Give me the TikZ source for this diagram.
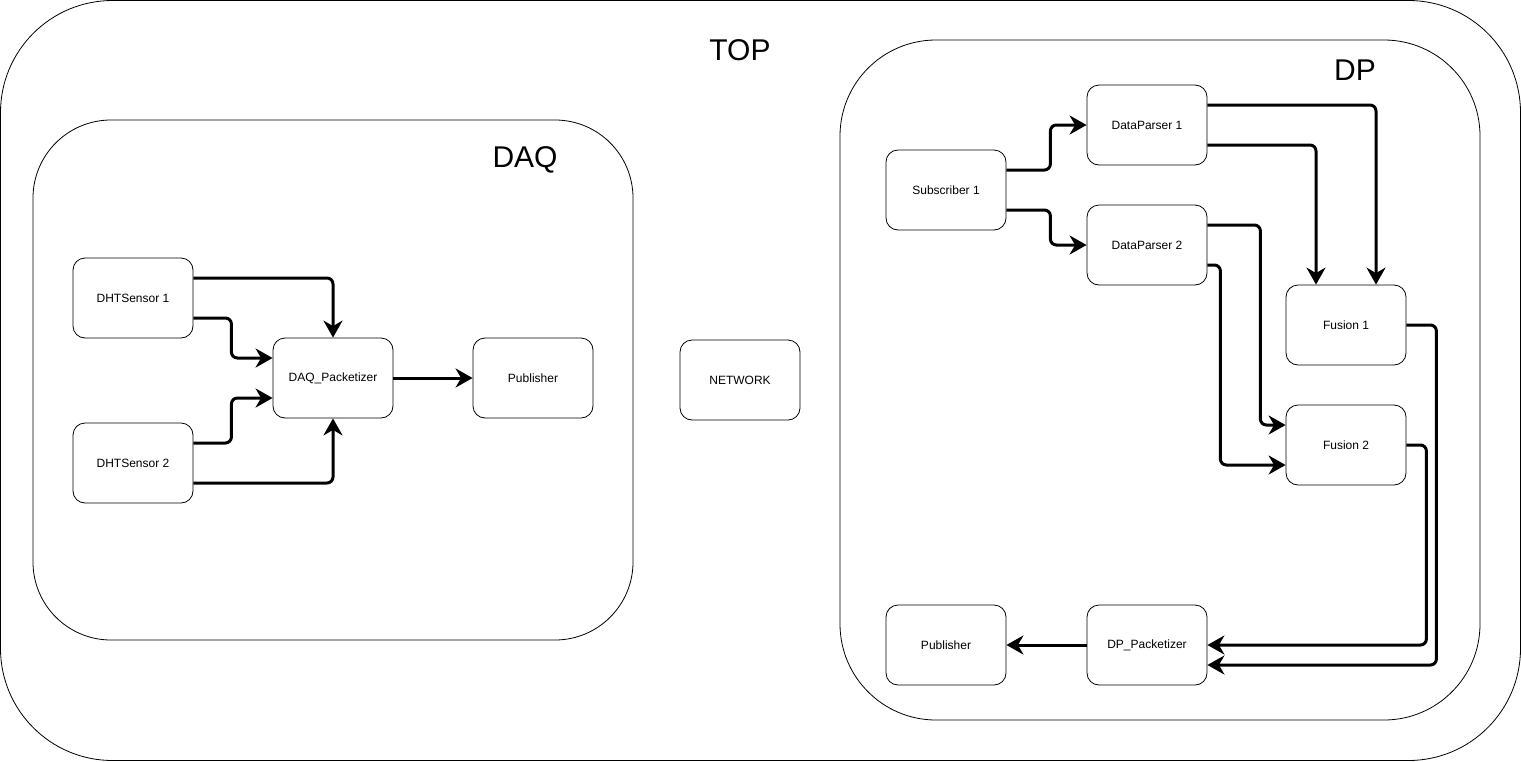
\documentclass[tikz,border=0pt]{standalone}
\usepackage{fontspec}
\setmainfont{Liberation Sans}
\usetikzlibrary{arrows.meta,calc}
\begin{document}
\begin{tikzpicture}[x=1pt,y=-1pt,
  box/.style={draw=black,line width=0.8pt,rounded corners=12pt,minimum width=120pt,minimum height=80pt,inner sep=0pt,font=\fontsize{12}{14}\selectfont,fill=white},
  conn/.style={line width=3pt,rounded corners=6pt,-{Stealth[length=17pt,width=19pt,inset=5.5pt]}},
  group/.style={draw=black,line width=0.8pt},
  title/.style={font=\fontsize{30}{34}\selectfont,inner sep=0pt}]
\useasboundingbox (0,0) rectangle (1521,761);
% containers
\draw[group,rounded corners=112pt] (0.5,0.5) rectangle (1520.5,760.5);
\draw[group,rounded corners=78pt] (33,120) rectangle (633,640);
\draw[group,rounded corners=96pt] (840,40) rectangle (1480,720);
\node[title] (ttop) at (740,50) {TOP};
\node[title] (tdaq) at (525,160) {DAQ};
\node[title] (tdp) at (1355,70) {DP};
% DAQ nodes
\node[box] (dht1) at (133,298) {DHTSensor 1};
\node[box] (dht2) at (133,463) {DHTSensor 2};
\node[box] (pk) at (333,378) {DAQ\_Packetizer};
\node[box] (pub1) at (533,378) {Publisher};
\node[box] (net) at (740,380) {NETWORK};
% DP nodes
\node[box] (sub) at (946,190) {Subscriber 1};
\node[box] (dp1) at (1147,125) {DataParser 1};
\node[box] (dp2) at (1147,245) {DataParser 2};
\node[box] (f1) at (1346,325) {Fusion 1};
\node[box] (f2) at (1346,445) {Fusion 2};
\node[box] (pub2) at (946,645) {Publisher};
\node[box] (dpp) at (1147,645) {DP\_Packetizer};
% DAQ edges
\draw[conn] ([yshift=20pt]dht1.east) -| (pk.north);
\draw[conn] ([yshift=-20pt]dht1.east) -- ++(38,0) |- ([yshift=20pt]pk.west);
\draw[conn] ([yshift=20pt]dht2.east) -- ++(38,0) |- ([yshift=-20pt]pk.west);
\draw[conn] ([yshift=-20pt]dht2.east) -| (pk.south);
\draw[conn] (pk.east) -- (pub1.west);
% DP edges
\draw[conn] ([yshift=20pt]sub.east) -- ++(44,0) |- (dp1.west);
\draw[conn] ([yshift=-20pt]sub.east) -- ++(44,0) |- (dp2.west);
\draw[conn] ([yshift=20pt]dp1.east) -| ([xshift=30pt]f1.north);
\draw[conn] ([yshift=-20pt]dp1.east) -| ([xshift=-30pt]f1.north);
\draw[conn] ([yshift=20pt]dp2.east) -- ++(53,0) |- ([yshift=20pt]f2.west);
\draw[conn] ([yshift=-20pt]dp2.east) -- ++(13,0) |- ([yshift=-20pt]f2.west);
\draw[conn] (f1.east) -- ++(30,0) |- ([yshift=-20pt]dpp.east);
\draw[conn] (f2.east) -- ++(20,0) |- (dpp.east);
\draw[conn] (dpp.west) -- (pub2.east);
\end{tikzpicture}
\end{document}
